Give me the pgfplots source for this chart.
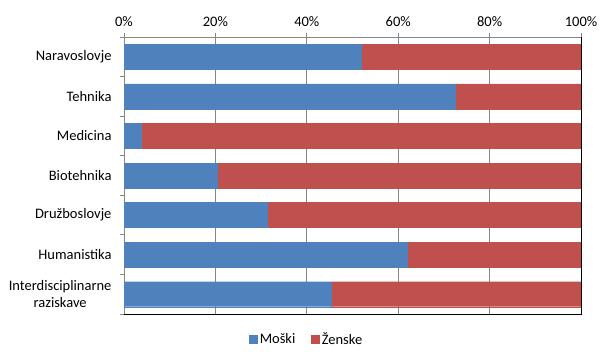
\documentclass[border=0pt]{standalone}
\usepackage{pgfplots}
\pgfplotsset{compat=1.18}
\usepackage{fontspec}
\setmainfont{Carlito}
\definecolor{moski}{HTML}{4F81BD}
\definecolor{zenske}{HTML}{C0504D}
\definecolor{gridc}{HTML}{868686}
\begin{document}
\begin{tikzpicture}
\useasboundingbox (0,0) rectangle (609pt,355pt);
\begin{axis}[
  at={(124pt,41pt)}, anchor=south west,
  scale only axis, width=457pt, height=277pt,
  xbar stacked, bar width=25pt,
  xmin=0, xmax=100, ymin=-0.5, ymax=6.5,
  y dir=reverse,
  axis line style={draw=gridc, line width=0.8pt},
  xtick={0,20,...,100},
  xticklabels={0\%,20\%,40\%,60\%,80\%,100\%},
  xtick pos=upper, xticklabel pos=upper,
  xmajorgrids, grid style={gridc, line width=0.8pt},
  tick align=outside, major tick length=4pt,
  tick style={gridc, line width=0.8pt},
  ytick={-0.5,0.5,...,6.5}, yticklabels={},
  ytick pos=left,
  extra y ticks={0,1,2,3,4,5,6},
  extra y tick labels={Naravoslovje,Tehnika,Medicina,Biotehnika,Družboslovje,Humanistika,{Interdisciplinarne\\raziskave}},
  extra y tick style={major tick length=0pt, tick style={draw=none}},
  yticklabel style={align=center, xshift=-9pt},
  xticklabel style={yshift=3pt},
  tick label style={font=\fontsize{14.5}{16.5}\selectfont},
  /pgf/number format/assume math mode=true,
  legend style={at={(0.40,-0.09)}, anchor=center, draw=none, legend columns=2,
    font=\fontsize{14.5}{16.5}\selectfont,
    /tikz/every even column/.append style={column sep=14pt}},
  legend image code/.code={\fill[#1] (0pt,-4pt) rectangle (8pt,4pt);},
  after end axis/.code={
    \draw[black, line width=0.9pt] (axis cs:0,6.5) -- (axis cs:100,6.5) -- (axis cs:100,-0.5);
  },
]
\addplot[fill=moski, draw=moski] coordinates {(52.0,0) (72.4,1) (3.7,2) (20.3,3) (31.3,4) (61.9,5) (45.4,6)};
\addplot[fill=zenske, draw=zenske] coordinates {(48.0,0) (27.6,1) (96.3,2) (79.7,3) (68.7,4) (38.1,5) (54.6,6)};
\legend{Moški,Ženske}
\end{axis}
\end{tikzpicture}
\end{document}
